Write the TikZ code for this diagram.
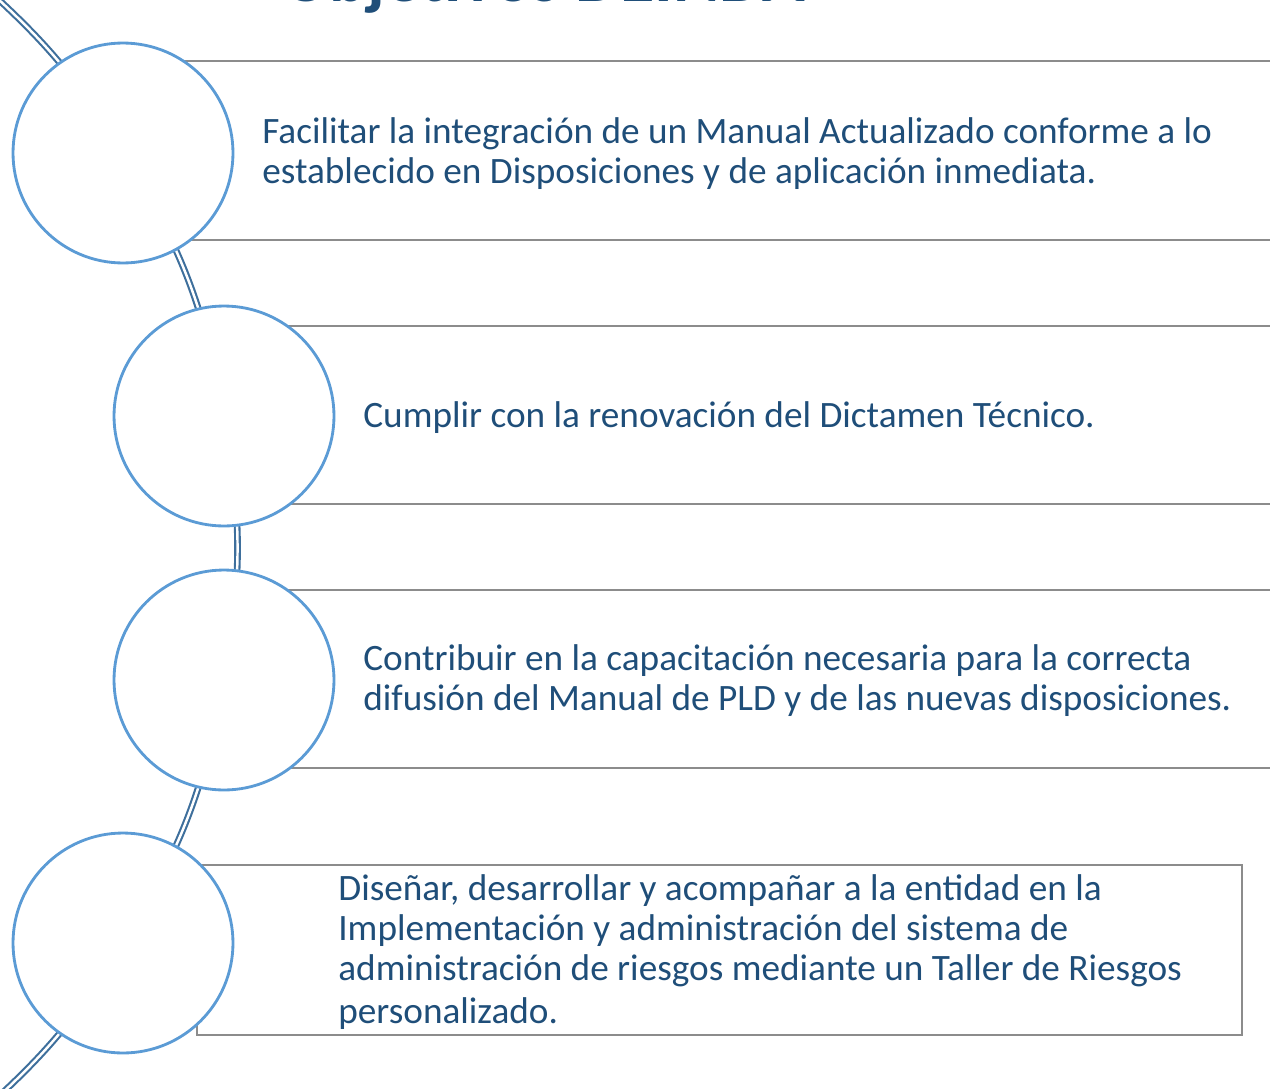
\documentclass[tikz,border=0pt]{standalone}
\usepackage{fontspec}
\setmainfont{Carlito}
\usetikzlibrary{backgrounds}
\definecolor{circblue}{HTML}{5B9BD5}
\definecolor{connblue}{HTML}{3E6F9C}
\definecolor{txtblue}{HTML}{1F4E79}
\definecolor{bandgray}{HTML}{8C8C8C}
\begin{document}
\begin{tikzpicture}[x=0.02cm,y=-0.02cm,
  bubble/.style={circle, draw=circblue, line width=1.6pt, fill=white, minimum size=4.4cm, inner sep=0pt},
  connector/.style={draw=connblue, line width=1.2pt, double=white, double distance=1.4pt},
  bandline/.style={draw=bandgray, line width=1.1pt},
  item/.style={anchor=west, align=left, text=txtblue, inner sep=0pt, font=\fontsize{21.2pt}{22.7pt}\selectfont},
  titletext/.style={anchor=base west, text=txtblue, inner sep=0pt, font=\bfseries\fontsize{40pt}{44pt}\selectfont}]
\useasboundingbox (0,0) rectangle (1270,1088);
\clip (0,0) rectangle (1270,1088);

\node[titletext] (title) at (282,2) {Objetivos DEINDA};

\node[bubble] (c1) at (123,153) {};
\node[bubble] (c2) at (224,416) {};
\node[bubble] (c3) at (224,680) {};
\node[bubble] (c4) at (123,943) {};

\coordinate (top) at (-14,-12);
\coordinate (bottom) at (-14,1108);

\begin{scope}[on background layer]
  \draw[bandline] (123,61) -- (1275,61);
  \draw[bandline] (123,240) -- (1275,240);
  \draw[bandline] (224,326) -- (1275,326);
  \draw[bandline] (224,504) -- (1275,504);
  \draw[bandline] (224,590) -- (1275,590);
  \draw[bandline] (224,768) -- (1275,768);
  \draw[bandline, fill=white] (197,865) rectangle (1242,1035);
  \draw[connector] (top) to[bend left=8.2] (c1.center);
  \draw[connector] (c1.center) to[bend left=10.75] (c2.center);
  \draw[connector] (c2.center) to[bend left=10.1] (c3.center);
  \draw[connector] (c3.center) to[bend left=10.75] (c4.center);
  \draw[connector] (c4.center) to[bend left=8.2] (bottom);
\end{scope}

\node[item] (t1) at (262,154) {Facilitar la integración de un Manual Actualizado conforme a lo\\establecido en Disposiciones y de aplicación inmediata.};
\node[item] (t2) at (363,418) {Cumplir con la renovación del Dictamen Técnico.};
\node[item] (t3) at (363,681) {Contribuir en la capacitación necesaria para la correcta\\difusión del Manual de PLD y de las nuevas disposiciones.};
\node[item] (t4) at (338,952) {Diseñar, desarrollar y acompañar a la entidad en la\\Implementación y administración del sistema de\\administración de riesgos mediante un Taller de Riesgos\\[1.7pt]personalizado.};
\end{tikzpicture}
\end{document}
